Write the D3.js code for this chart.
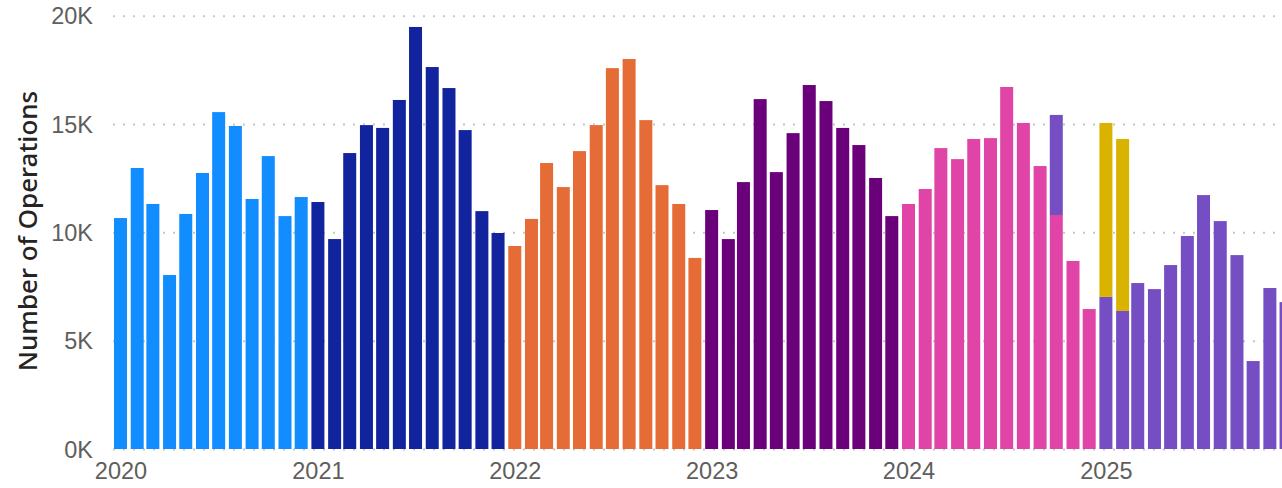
<!DOCTYPE html>
<html>
<head>
<meta charset="utf-8">
<script src="https://cdn.jsdelivr.net/npm/d3@7"></script>
<style>
    body { margin: 0; background: #fff; }
    svg { display: block; font-family: "Segoe UI", "Noto Sans", sans-serif; }
    .grid line { stroke: #c8c6c4; stroke-width: 2; stroke-dasharray: 2, 8; }
    .grid path { display: none; }
    .axis text { fill: #605e5c; font-size: 23.5px; }
    .axis path { display: none; }
</style>
</head>
<body>
<div id="chart"></div>
<script>
// monthly operations, Jan..Dec (bottom segment of each bar)
const ops2020 = [10660, 12970, 11310, 8030, 10850, 12740, 15550, 14910, 11540, 13520, 10750, 11630];
const ops2021 = [11400, 9690, 13660, 14950, 14820, 16110, 19480, 17630, 16660, 14720, 10980, 9970];
const ops2022 = [9370, 10620, 13200, 12090, 13750, 14950, 17580, 18000, 15180, 12180, 11310, 8820];
const ops2023 = [11030, 9690, 12320, 16150, 12780, 14580, 16800, 16060, 14820, 14030, 12510, 10750];
const ops2024 = [11310, 12000, 13890, 13380, 14310, 14350, 16710, 15050, 13060, 10800, 8680, 6460];
const ops2025 = [7020, 6370, 7660, 7380, 8490, 9830, 11720, 10520, 8950, 4060, 7430, 6780];

// extra segments stacked on top of some months
const topMonths = ["2024-10", "2025-01", "2025-02"];
const topValues = [4620, 8030, 7940];
const topSeries = ["2025", "Other", "Other"];

const seriesKeys = ["2020", "2021", "2022", "2023", "2024", "2025", "Other"];
const seriesColors = ["#118DFF", "#12239E", "#E66C37", "#6B007B", "#E044A7", "#744EC2", "#D9B300"];
const yTicks = [0, 5000, 10000, 15000, 20000];
const xTickYears = [2020, 2021, 2022, 2023, 2024, 2025];

const width = 1282, height = 488;
const plot = { left: 113, top: 15.7, bottom: 449 };

const svg = d3.select("#chart")
    .append("svg")
    .attr("width", width)
    .attr("height", height);

const color = d3.scaleOrdinal().domain(seriesKeys).range(seriesColors);
const parseMonth = d3.timeParse("%Y-%m");

// build segments
const yearly = [ops2020, ops2021, ops2022, ops2023, ops2024, ops2025];
const segments = [];
const baseTotals = new Map();
yearly.forEach((vals, i) => {
    const year = 2020 + i;
    vals.forEach((v, m) => {
        const date = new Date(year, m, 1);
        segments.push({ date: date, y0: 0, y1: v, key: String(year) });
        baseTotals.set(+date, v);
    });
});
topMonths.forEach((m, i) => {
    const date = parseMonth(m);
    const base = baseTotals.get(+date);
    segments.push({ date: date, y0: base, y1: base + topValues[i], key: topSeries[i] });
});

// scales
const pxPerDay = 197 / 365.25;
const x0 = new Date(2020, 0, 1), x1 = new Date(2026, 0, 1);
const x = d3.scaleTime()
    .domain([x0, x1])
    .range([120.5, 120.5 + pxPerDay * d3.timeDay.count(x0, x1)]);

const y = d3.scaleLinear()
    .domain([0, 20000])
    .range([plot.bottom, plot.top]);

// gridlines
svg.append("g")
    .attr("class", "grid")
    .attr("transform", `translate(${plot.left},0)`)
    .call(d3.axisLeft(y).tickValues(yTicks).tickSize(-(width - plot.left)).tickFormat(""));

// bars
const barWidth = 13;
svg.append("g")
    .selectAll("rect")
    .data(segments)
    .enter().append("rect")
    .attr("x", d => x(d.date) - barWidth / 2)
    .attr("width", barWidth)
    .attr("y", d => y(d.y1))
    .attr("height", d => y(d.y0) - y(d.y1))
    .attr("fill", d => color(d.key));

// y axis labels
svg.append("g")
    .attr("class", "axis")
    .attr("transform", `translate(${plot.left},0)`)
    .call(d3.axisLeft(y).tickValues(yTicks).tickSize(0).tickPadding(20)
        .tickFormat(d => (d / 1000) + "K"))
    .selectAll("text")
    .attr("dy", "0.34em");

// x axis labels
svg.append("g")
    .attr("class", "axis")
    .attr("transform", `translate(0,${plot.bottom})`)
    .call(d3.axisBottom(x)
        .tickValues(xTickYears.map(yr => new Date(yr, 0, 1)))
        .tickSize(0).tickPadding(13)
        .tickFormat(d3.timeFormat("%Y")));

// y axis title
svg.append("text")
    .attr("transform", "translate(37,231) rotate(-90)")
    .attr("text-anchor", "middle")
    .attr("fill", "#252423")
    .attr("font-size", "26px")
    .attr("font-weight", 500)
    .text("Number of Operations");
</script>
</body>
</html>
